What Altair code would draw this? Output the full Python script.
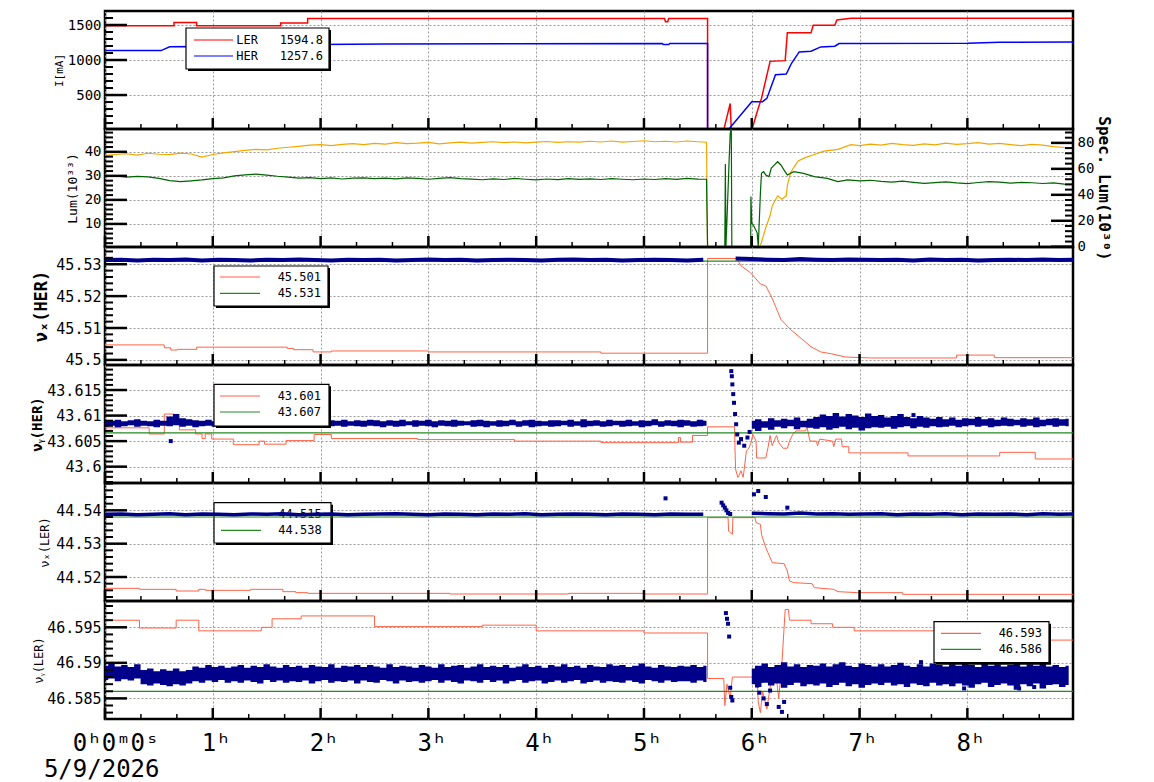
import altair as alt
import pandas as pd

FONT = "DejaVu Sans Mono"
W, H = 968, 118
X_DOMAIN = [0, 8.98]
HOURS = [0, 1, 2, 3, 4, 5, 6, 7, 8]
X_MINOR = [round(h + f / 3, 4) for h in range(9) for f in (1, 2) if h + f / 3 < 8.98]
DATE_LABEL = "5/9/2026"
NB = "\u00a0"

RED, BLUE = "#ff0000", "#0000ff"
ORANGE, DKGREEN = "#f0a800", "#006400"
TOMATO, GREEN, NAVY = "#ff6347", "#228b22", "#00008b"
GRID = "#9a9a9a"

# ---------------- data (time in hours) ----------------
LER_I = [(0, 1490), (0.64, 1490), (0.64, 1535), (0.85, 1535), (0.85, 1490), (1.63, 1490), (1.63, 1530),
         (1.88, 1530), (1.88, 1592), (5.19, 1592), (5.20, 1545), (5.22, 1545), (5.23, 1592), (5.59, 1592),
         (5.59, 0), (5.74, 0), (5.80, 380), (5.81, 0), (6.00, 0), (6.06, 310), (6.09, 452), (6.13, 717),
         (6.17, 981), (6.31, 991), (6.33, 1390), (6.55, 1390), (6.57, 1495), (6.77, 1495), (6.79, 1572),
         (6.92, 1597), (8.98, 1595)]
HER_I = [(0, 1135), (0.52, 1135), (0.60, 1190), (0.85, 1193), (0.85, 1140), (1.60, 1140), (1.66, 1200),
         (1.95, 1222), (2.6, 1230), (5.17, 1236), (5.18, 1222), (5.23, 1222), (5.24, 1236), (5.59, 1236),
         (5.59, 0), (5.78, 0), (6.00, 405), (6.10, 405), (6.14, 452), (6.22, 790), (6.32, 800), (6.37, 957),
         (6.44, 1116), (6.55, 1125), (6.64, 1187), (6.77, 1197), (6.81, 1236), (8.0, 1240), (8.3, 1255),
         (8.98, 1257)]

LUM_A = [38.5, 38.9, 39.2, 38.6, 39.4, 39.0, 38.8, 39.5, 39.1, 37.8,
         38.9, 39.6, 40.1, 40.6, 41.0, 40.8, 41.5, 41.9, 42.3, 42.8,
         43.0, 42.6, 43.1, 43.4, 43.0, 43.5, 43.2, 43.8, 43.4, 43.6,
         43.9, 43.3, 43.7, 44.0, 43.6, 43.9, 44.2, 43.8, 44.1, 43.7,
         44.0, 44.3, 43.9, 44.2, 44.0, 44.4, 44.1, 44.5, 44.0, 44.3,
         44.6, 44.2, 44.4, 44.1, 44.5, 44.2]
LUM_EVENT = [(5.58, 44.0), (5.59, 0), (6.07, 0), (6.09, 2.4), (6.13, 8.5), (6.17, 13.5), (6.19, 17.6),
             (6.24, 21.7), (6.28, 20.3), (6.32, 21.7), (6.33, 25.9), (6.36, 31.4), (6.43, 36.2),
             (6.49, 37.5), (6.58, 38.9), (6.67, 40.3), (6.80, 41.0), (6.92, 43.0)]
LUM_B = [42.6, 43.2, 42.8, 43.5, 43.0, 42.7, 43.3, 42.9, 43.6, 43.1, 43.4, 43.8, 43.2, 43.5, 43.0,
         42.6, 43.1, 42.8, 42.2, 41.8, 41.5]

SPEC_A = [54.0, 54.5, 53.6, 54.2, 53.8, 52.6, 51.0, 50.2, 50.8, 51.5,
          52.4, 53.0, 54.6, 55.4, 56.0, 55.2, 54.3, 53.6, 52.8, 53.2,
          52.5, 53.0, 52.2, 52.8, 53.1, 52.4, 52.9, 52.3, 53.0, 52.6,
          52.0, 52.7, 53.2, 52.5, 52.1, 51.6, 52.3, 51.8, 52.6, 52.0,
          51.5, 52.2, 51.7, 52.4, 51.9, 52.3, 51.8, 52.5, 52.0, 51.6,
          52.2, 51.8, 52.4, 51.9, 52.6, 52.1]
SPEC_EVENT = [(5.58, 52.0), (5.59, 0), (5.75, 0), (5.755, 63.7), (5.76, 0), (5.77, 21), (5.79, 66.8),
              (5.80, 87), (5.81, 92), (5.815, 0), (5.99, 0), (5.992, 38.7), (6.0, 18.3), (6.02, 15.8),
              (6.05, 10.7), (6.06, 0), (6.08, 41.3), (6.09, 56.5), (6.11, 57.8), (6.13, 55.3), (6.16, 54),
              (6.18, 60.4), (6.21, 63), (6.24, 65.5), (6.27, 63), (6.30, 59), (6.33, 55.3), (6.39, 57.8),
              (6.48, 56.5), (6.58, 54), (6.70, 52.7), (6.80, 50.2), (6.89, 51.5)]
SPEC_B = [50.8, 51.2, 50.4, 49.8, 50.5, 49.6, 48.8, 49.4, 50.0, 49.2, 48.6, 49.5, 50.1, 49.7, 49.0,
          49.6, 49.3, 48.7, 49.2, 48.3, 47.9]

NUX_HER_SET = [(0, 45.5047), (0.55, 45.5047), (0.55, 45.5038), (0.61, 45.5038), (0.61, 45.5031),
               (0.67, 45.5031), (0.67, 45.5033), (0.85, 45.5033), (0.85, 45.5040), (1.69, 45.5040),
               (1.69, 45.5036), (1.75, 45.5036), (1.75, 45.5032), (1.93, 45.5032), (1.93, 45.5025),
               (2.1, 45.5025), (2.1, 45.5028), (3.0, 45.5028), (3.0, 45.5025), (4.6, 45.5025),
               (4.6, 45.5021), (5.59, 45.5021), (5.59, 45.5318), (5.86, 45.5318), (5.90, 45.5295),
               (5.99, 45.5273), (6.08, 45.5238), (6.13, 45.5232), (6.18, 45.5200), (6.22, 45.5168),
               (6.27, 45.5127), (6.36, 45.5095), (6.46, 45.5067), (6.55, 45.5041), (6.64, 45.5025),
               (6.74, 45.5019), (6.87, 45.5009), (7.11, 45.5006), (7.9, 45.5006), (7.9, 45.5015),
               (8.25, 45.5015), (8.25, 45.5007), (8.98, 45.5007)]
NUX_HER_REF = 45.531
NUX_HER_MEAS = [13, 14, 12, 14, 13, 15, 12, 14, 13, 12, 14, 13, 15, 13, 12, 14, 13, 14, 12, 13,
                15, 13, 14, 12, 13, 14, 13, 12, 14, 15, 13, 14, 12, 13, 14, 13, 12, 14, None, 18,
                16, 14, 13, 16, 14, 13, 15, 14, 13, 14, 12, 15, 13, 14, 12, 13, 14, 13, 15, 13, 14]

NUY_HER_SET = [(0, 43.6076), (0.41, 43.6076), (0.41, 43.6064), (0.55, 43.6064), (0.55, 43.6103),
               (0.64, 43.6103), (0.64, 43.6083), (0.69, 43.6083), (0.69, 43.6072), (0.84, 43.6072),
               (0.84, 43.6064), (0.90, 43.6064), (0.90, 43.6055), (0.93, 43.6055), (0.93, 43.6064),
               (0.99, 43.6064), (0.99, 43.6054), (1.19, 43.6054), (1.19, 43.6043), (1.43, 43.6043),
               (1.43, 43.6050), (1.48, 43.6050), (1.48, 43.6044), (1.68, 43.6044), (1.68, 43.6051),
               (1.94, 43.6051), (1.94, 43.6063), (2.1, 43.6063), (2.1, 43.6055), (2.9, 43.6055),
               (2.9, 43.6053), (3.8, 43.6053), (3.8, 43.6050), (4.6, 43.6050), (4.6, 43.6047),
               (5.32, 43.6047), (5.32, 43.6057), (5.34, 43.6057), (5.34, 43.6048), (5.45, 43.6048),
               (5.45, 43.6061), (5.59, 43.6061), (5.59, 43.6078), (5.84, 43.6078), (5.845, 43.6031),
               (5.85, 43.5995), (5.87, 43.5979), (5.88, 43.5982), (5.90, 43.5992), (5.92, 43.5979),
               (5.93, 43.5995), (5.95, 43.6031), (5.97, 43.6035), (5.99, 43.6045), (6.01, 43.6063),
               (6.04, 43.6050), (6.045, 43.6017), (6.13, 43.6017), (6.15, 43.6037), (6.17, 43.6061),
               (6.19, 43.6041), (6.22, 43.6057), (6.23, 43.6061), (6.25, 43.6047), (6.29, 43.6036),
               (6.33, 43.6036), (6.35, 43.6050), (6.38, 43.6063), (6.41, 43.6070), (6.50, 43.6070),
               (6.51, 43.6080), (6.54, 43.6050), (6.60, 43.6050), (6.61, 43.6041), (6.63, 43.6054),
               (6.75, 43.6050), (6.76, 43.6039), (6.78, 43.6054), (6.83, 43.6054), (6.84, 43.6039),
               (6.90, 43.6039), (6.90, 43.6027), (7.45, 43.6027), (7.45, 43.6021), (8.3, 43.6021),
               (8.3, 43.6028), (8.63, 43.6028), (8.63, 43.6015), (8.98, 43.6015)]
NUY_HER_REF = 43.6066
# measured band (upper / lower edge), offsets of 0.0001 above 43.60, one value per 0.06 h
NUY_HER_HI = [91, 90, 92, 89, 91, 93, 90, 89, 92, 90,
              98, 103, 95, 93, 91, 90, 92, 89, 91, 90,
              90, 92, 89, 91, 90, 92, 89, 91, 90, 92,
              89, 91, 92, 90, 89, 91, 90, 92, 89, 91,
              90, 92, 91, 89, 91, 90, 92, 89, 91, 90,
              92, 89, 91, 90, 92, 90, 89, 91, 92, 90,
              89, 91, 90, 92, 89, 91, 92, 90, 89, 91,
              91, 90, 92, 89, 93, 90, 91, 89, 92, 90,
              90, 92, 89, 91, 90, 93, 89, 91, 90, 92,
              91, 89, 92, 90, None, None, None, None, None, None,
              90, 93, 89, 95, 91, 94, 92, 96, 90, 94,
              97, 102, 99, 105, 98, 103, 100, 97, 104, 99,
              101, 96, 99, 103, 97, 95, 99, 96, 94, 97,
              93, 96, 92, 95, 94, 97, 93, 95, 92, 96,
              94, 92, 95, 93, 96, 92, 94, 95, 93, 94]
NUY_HER_LO = [78, 80, 77, 79, 81, 78, 80, 79, 77, 80,
              79, 81, 78, 80, 77, 79, 80, 78, 81, 79,
              79, 77, 80, 78, 79, 81, 78, 79, 80, 77,
              80, 78, 79, 81, 77, 79, 80, 78, 80, 79,
              78, 80, 79, 77, 80, 78, 79, 81, 78, 80,
              79, 77, 80, 79, 78, 80, 81, 78, 79, 77,
              80, 78, 79, 81, 78, 80, 77, 79, 80, 78,
              79, 81, 78, 80, 77, 79, 80, 78, 79, 81,
              78, 79, 80, 77, 79, 81, 78, 80, 79, 77,
              80, 78, 79, 80, None, None, None, None, None, None,
              74, 70, 76, 72, 78, 75, 79, 73, 77, 76,
              74, 77, 72, 75, 78, 73, 76, 71, 75, 77,
              76, 78, 74, 77, 79, 75, 78, 76, 79, 77,
              78, 80, 77, 79, 81, 78, 80, 77, 79, 80,
              79, 81, 78, 80, 77, 79, 81, 78, 80, 79]
NUY_HER_OUT = [(5.81, 43.6187), (5.815, 43.6177), (5.82, 43.6161), (5.828, 43.6142), (5.835, 43.6125),
               (5.845, 43.6103), (5.855, 43.6083), (5.865, 43.6063), (5.88, 43.6047), (5.90, 43.6054),
               (5.93, 43.6041), (5.96, 43.6057), (5.98, 43.6068), (0.61, 43.6050), (7.50, 43.6101)]

NUX_LER_SET = [(0, 44.5166), (0.32, 44.5166), (0.32, 44.5163), (0.66, 44.5163), (0.66, 44.5158),
               (0.87, 44.5158), (0.87, 44.5163), (0.93, 44.5163), (0.93, 44.5160), (1.35, 44.5160),
               (1.35, 44.5163), (1.65, 44.5163), (1.65, 44.5156), (1.77, 44.5156), (1.77, 44.5153),
               (1.88, 44.5153), (1.88, 44.5151), (3.2, 44.5151), (3.2, 44.5149), (4.3, 44.5149),
               (4.3, 44.5151), (5.0, 44.5151), (5.0, 44.5149), (5.59, 44.5149), (5.59, 44.5378),
               (5.78, 44.5378), (5.785, 44.5338), (5.80, 44.5333), (5.82, 44.5328), (5.825, 44.5378),
               (6.03, 44.5378), (6.04, 44.5363), (6.08, 44.5358), (6.09, 44.5328), (6.11, 44.5308),
               (6.13, 44.5288), (6.15, 44.5273), (6.17, 44.5258), (6.19, 44.5243), (6.30, 44.5240),
               (6.33, 44.5218), (6.35, 44.5188), (6.39, 44.5183), (6.56, 44.5180), (6.58, 44.5168),
               (6.76, 44.5163), (6.80, 44.5156), (6.98, 44.5153), (7.4, 44.5153), (7.4, 44.5148),
               (8.98, 44.5148)]
NUX_LER_REF = 44.538
NUX_LER_MEAS = [88, 89, 87, 88, 90, 87, 89, 88, 87, 89, 88, 90, 87, 88, 89, 87, 88, 89, 90, 88,
                87, 89, 88, 87, 89, 88, 90, 87, 88, 89, 88, 87, 89, 88, 87, 89, 88, 88, None, None,
                91, 90, 89, 92, 89, 90, 88, 89, 90, 87, 89, 88, 90, 87, 89, 88, 89, 87, 90, 88, 89]
NUX_LER_OUT = [(5.20, 44.5436), (5.72, 44.5423), (5.735, 44.5415), (5.75, 44.5408), (5.765, 44.5400),
               (5.78, 44.5392), (5.80, 44.5389), (6.02, 44.5448), (6.06, 44.5458), (6.13, 44.5440),
               (6.33, 44.5408)]

NUY_LER_SET = [(0, 46.5960), (0.32, 46.5960), (0.32, 46.5949), (0.66, 46.5949), (0.66, 46.5960),
               (0.87, 46.5960), (0.87, 46.5945), (1.45, 46.5945), (1.45, 46.5950), (1.55, 46.5950),
               (1.55, 46.5962), (1.82, 46.5962), (1.82, 46.5966), (2.5, 46.5966), (2.5, 46.5951),
               (3.5, 46.5951), (3.5, 46.5953), (4.0, 46.5953), (4.0, 46.5945), (5.0, 46.5945),
               (5.0, 46.5942), (5.59, 46.5942), (5.59, 46.5878), (5.74, 46.5878), (5.75, 46.5840),
               (5.77, 46.5870), (5.80, 46.5850), (5.82, 46.5880), (6.05, 46.5880), (6.06, 46.5845),
               (6.08, 46.5830), (6.10, 46.5860), (6.14, 46.5835), (6.18, 46.5875), (6.22, 46.5890),
               (6.25, 46.5850), (6.28, 46.5900), (6.31, 46.5975), (6.34, 46.5975), (6.35, 46.5960),
               (6.55, 46.5960), (6.55, 46.5955), (6.75, 46.5955), (6.75, 46.5950), (6.95, 46.5950),
               (6.95, 46.5945), (7.75, 46.5945), (7.75, 46.5940), (7.85, 46.5940), (7.85, 46.5946),
               (7.98, 46.5946), (7.98, 46.5937), (8.13, 46.5937), (8.13, 46.5943), (8.22, 46.5943),
               (8.22, 46.5932), (8.98, 46.5932)]
NUY_LER_REF = 46.586
# measured band (upper / lower edge), offsets of 0.0001 above 46.58, one value per 0.06 h
NUY_LER_HI = [96, 99, 95, 97, 94, 98, 90, 92, 88, 91,
              89, 92, 88, 90, 95, 93, 97, 94, 96, 93,
              95, 97, 93, 96, 94, 98, 95, 93, 97, 94,
              96, 93, 97, 95, 94, 98, 93, 96, 95, 97,
              94, 97, 95, 93, 98, 94, 96, 95, 93, 97,
              95, 93, 98, 94, 96, 97, 93, 95, 98, 94,
              96, 94, 97, 93, 95, 98, 94, 96, 93, 97,
              95, 98, 94, 96, 93, 97, 95, 94, 98, 96,
              97, 94, 96, 99, 95, 93, 97, 95, 94, 96,
              95, 97, 94, 96, None, None, None, None, None, None,
              92, 96, 99, 94, 97, 101, 95, 98, 94, 97,
              96, 99, 95, 98, 101, 96, 94, 99, 97, 95,
              98, 95, 97, 100, 96, 94, 98, 95, 99, 97,
              95, 98, 96, 101, 97, 94, 99, 96, 98, 95,
              97, 100, 95, 98, 96, 99, 95, 97, 94, 96]
NUY_LER_LO = [76, 78, 74, 77, 75, 78, 70, 68, 71, 69,
              67, 70, 68, 71, 74, 72, 75, 73, 76, 72,
              74, 72, 75, 73, 71, 76, 73, 75, 72, 74,
              73, 75, 71, 74, 76, 72, 74, 73, 75, 71,
              75, 73, 72, 76, 74, 71, 75, 73, 74, 72,
              74, 76, 72, 75, 73, 71, 75, 74, 72, 76,
              73, 75, 71, 74, 76, 72, 74, 75, 71, 73,
              75, 72, 74, 76, 71, 73, 75, 72, 74, 73,
              72, 75, 73, 71, 76, 74, 72, 75, 73, 74,
              74, 72, 75, 73, None, None, None, None, None, None,
              70, 66, 72, 68, 71, 65, 69, 72, 67, 70,
              68, 71, 66, 69, 72, 67, 70, 65, 69, 71,
              69, 72, 68, 70, 66, 71, 69, 67, 72, 68,
              70, 67, 71, 68, 65, 70, 72, 66, 69, 71,
              68, 62, 70, 67, 71, 64, 69, 70, 66, 69]
NUY_LER_OUT = [(5.76, 46.5970), (5.77, 46.5962), (5.78, 46.5955), (5.79, 46.5937), (5.80, 46.5865),
               (5.81, 46.5852), (5.82, 46.5847), (6.05, 46.5868), (6.07, 46.5858), (6.09, 46.5875),
               (6.11, 46.5850), (6.14, 46.5842), (6.17, 46.5861), (6.25, 46.5838), (6.28, 46.5831),
               (6.30, 46.5845), (7.57, 46.5901), (7.97, 46.5864), (8.48, 46.5864), (8.62, 46.5866),
               (8.62, 46.5901)]

LEG1_NAMES = ["LER", "HER"]
LEG1_VALUES = ["1594.8", "1257.6"]
LEG3_VALUES = ["45.501", "45.531"]
LEG4_VALUES = ["43.601", "43.607"]
LEG5_VALUES = ["44.515", "44.538"]
LEG6_VALUES = ["46.593", "46.586"]

P1_DOM = [15, 1700]
P2_LDOM = [0.4, 49.5]
P2_RDOM = [-0.2, 90.7]
P3_DOM = [45.4984, 45.5354]
P4_DOM = [43.5968, 43.6199]
P5_DOM = [44.5128, 44.5482]
P6_DOM = [46.5821, 46.5987]


# ---------------- helpers ----------------
def grid_pairs(t0, dt, vals):
    return [(round(t0 + k * dt, 4), v) for k, v in enumerate(vals)]


def xscale():
    return alt.Scale(domain=X_DOMAIN, nice=False, zero=False)


def yscale(d):
    return alt.Scale(domain=d, nice=False, zero=False)


def pairs_df(pairs):
    return pd.DataFrame({"t": [p[0] for p in pairs], "v": [p[1] for p in pairs],
                         "i": list(range(len(pairs)))})


def enc_xy(ydom, xa, ya, field="v"):
    return dict(x=alt.X("t:Q", scale=xscale(), axis=xa),
                y=alt.Y(field + ":Q", scale=yscale(ydom), axis=ya))


def line_layer(pairs, ydom, color, sw, xa, ya):
    return alt.Chart(pairs_df(pairs)).mark_line(color=color, strokeWidth=sw, clip=True).encode(
        order="i:Q", **enc_xy(ydom, xa, ya))


def const_layer(value, ydom, color, xa, ya):
    return line_layer([(X_DOMAIN[0], value), (X_DOMAIN[1], value)], ydom, color, 1.2, xa, ya)


def band_df(t0, dt, vals, base, unit):
    rows, seg = [], 0
    for k, v in enumerate(vals):
        if v is None:
            seg += 1
            continue
        rows.append({"t": round(t0 + k * dt, 4), "v": base + v * unit, "seg": seg})
    return pd.DataFrame(rows)


def navy_line(df, ydom, sw, xa, ya):
    return alt.Chart(df).mark_line(color=NAVY, strokeWidth=sw, clip=True).encode(
        detail="seg:N", **enc_xy(ydom, xa, ya))


def navy_area(t0, dt, lo, hi, base, unit, ydom, xa, ya):
    rows, seg = [], 0
    for k, (a, b) in enumerate(zip(lo, hi)):
        if a is None or b is None:
            seg += 1
            continue
        rows.append({"t": round(t0 + k * dt, 4), "lo": base + a * unit, "hi": base + b * unit, "seg": seg})
    return alt.Chart(pd.DataFrame(rows)).mark_area(color=NAVY, opacity=1, interpolate="step",
                                                   clip=True).encode(
        detail="seg:N", y2="hi:Q", **enc_xy(ydom, xa, ya, "lo"))


def scatter_layer(pairs, ydom, size, xa, ya):
    return alt.Chart(pairs_df(pairs)).mark_square(color=NAVY, size=size, opacity=1, clip=True).encode(
        **enc_xy(ydom, xa, ya))


def minor_vals(lo, hi, step, majors):
    n = int(round((hi - lo) / step))
    out = []
    for j in range(n + 1):
        val = round(lo + j * step, 4)
        if all(abs(val - m) > step / 10 for m in majors):
            out.append(val)
    return out


def y_axis(values, fmt, title, tsize, tweight, tx, lsize, orient="left", grid=True, angle=270):
    return alt.Axis(orient=orient, values=values, format=fmt, labelFont=FONT, labelFontSize=lsize,
                    labelColor="black", labelPadding=4, ticks=False, tickSize=0, domain=False,
                    grid=grid, gridDash=[2, 2], gridColor=GRID, gridWidth=1,
                    title=title, titleFont=FONT, titleFontSize=tsize, titleFontWeight=tweight,
                    titleColor="black", titleX=tx, titleY=H / 2, titleAngle=angle,
                    titleAlign="center", titleBaseline="middle", labelOverlap=False)


def ytick_layers(major, minor, ydom, ya_major, ya_minor, right=False):
    def rule(vals, length, sw, ax):
        x0 = W if right else 0
        x1 = W - length if right else length
        return alt.Chart(pd.DataFrame({"v": vals})).mark_rule(color="black", strokeWidth=sw).encode(
            y=alt.Y("v:Q", scale=yscale(ydom), axis=ax), x=alt.value(x0), x2=alt.value(x1))
    return [rule(major, 22, 2.5, ya_major), rule(minor, 8, 2, ya_minor)]


def x_axis(bottom=False):
    kw = dict(values=HOURS, grid=True, gridDash=[2, 2], gridColor=GRID, gridWidth=1,
              ticks=False, tickSize=0, domain=False, title=None)
    if bottom:
        first = "0\u02b00\u1d500\u02e2"
        kw.update(labels=True, labelFont=FONT, labelFontSize=24, labelColor="black",
                  labelPadding=12, labelLineHeight=26, labelFlush=False, labelOverlap=False,
                  labelAlign={"condition": {"test": "datum.value == 0", "value": "right"},
                              "value": "center"},
                  labelOffset={"condition": {"test": "datum.value == 0", "value": 54}, "value": 3},
                  labelExpr="datum.value == 0 ? ['" + first + "', '" + DATE_LABEL +
                            "'] : datum.value + '\u02b0'")
    else:
        kw.update(labels=False)
    return alt.Axis(**kw)


def xtick_layers(xa):
    maj = alt.Chart(pd.DataFrame({"t": HOURS})).mark_rule(color="black", strokeWidth=2.5).encode(
        x=alt.X("t:Q", scale=xscale(), axis=xa), y=alt.value(H), y2=alt.value(H - 11))
    mnr = alt.Chart(pd.DataFrame({"t": X_MINOR})).mark_rule(color="black", strokeWidth=1.5).encode(
        x=alt.X("t:Q", scale=xscale(), axis=xa), y=alt.value(H), y2=alt.value(H - 5))
    return [maj, mnr]


ONE = pd.DataFrame({"k": [0]})


def legend_layers(box, rows, line_x, text_x):
    x0, y0, x1, y1 = box
    base = alt.Chart(ONE)
    out = [
        base.mark_rect(color="black").encode(x=alt.value(x0 + 2), x2=alt.value(x1 + 2),
                                             y=alt.value(y0 + 2), y2=alt.value(y1 + 2)),
        base.mark_rect(fill="white", stroke="black", strokeWidth=1.2).encode(
            x=alt.value(x0), x2=alt.value(x1), y=alt.value(y0), y2=alt.value(y1)),
    ]
    for ry, color, label in rows:
        out.append(base.mark_rule(color=color, strokeWidth=1.2).encode(
            x=alt.value(line_x[0]), x2=alt.value(line_x[1]), y=alt.value(ry)))
        out.append(base.mark_text(align="right", baseline="middle", font=FONT, fontSize=12,
                                  color="black").encode(x=alt.value(text_x), y=alt.value(ry),
                                                        text=alt.value(label)))
    return out


def panel(layers, independent=False):
    ch = alt.layer(*layers).properties(width=W, height=H)
    if independent:
        ch = ch.resolve_scale(y="independent")
    return ch


XA = x_axis(False)
XB = x_axis(True)

# ---------------- panel 1: currents ----------------
p1_major = [500, 1000, 1500]
Y1 = y_axis(p1_major, "d", "I[mA]", 11, "normal", -46, 14)
p1 = panel(
    [line_layer(LER_I, P1_DOM, RED, 1.5, XA, Y1), line_layer(HER_I, P1_DOM, BLUE, 1.5, XA, Y1)]
    + ytick_layers(p1_major, minor_vals(100, 1700, 100, p1_major), P1_DOM, Y1, Y1)
    + xtick_layers(XA)
    + legend_layers((81, 17, 224, 58),
                    [(29, RED, LEG1_NAMES[0] + NB * 3 + LEG1_VALUES[0]),
                     (45, BLUE, LEG1_NAMES[1] + NB * 3 + LEG1_VALUES[1])],
                    (89, 128), 218)
)

# ---------------- panel 2: luminosity ----------------
lum_pairs = grid_pairs(0, 0.1, LUM_A) + LUM_EVENT + grid_pairs(7.0, 0.1, LUM_B)
spec_pairs = grid_pairs(0, 0.1, SPEC_A) + SPEC_EVENT + grid_pairs(7.0, 0.1, SPEC_B)
p2_lmaj = [10, 20, 30, 40]
p2_rmaj = [0, 20, 40, 60, 80]
Y2L = y_axis(p2_lmaj, "d", "Lum(10\u00b3\u00b3)", 13, "normal", -33, 14)
Y2R = y_axis(p2_rmaj, "d", "Spec. Lum(10\u00b3\u2070)", 16, "bold", 30, 14,
             orient="right", grid=False, angle=90)
p2 = panel(
    [line_layer(lum_pairs, P2_LDOM, ORANGE, 1.2, XA, None),
     line_layer(spec_pairs, P2_RDOM, DKGREEN, 1.2, XA, None)]
    + ytick_layers(p2_lmaj, minor_vals(2, 48, 2, p2_lmaj), P2_LDOM, Y2L, None)
    + ytick_layers(p2_rmaj, minor_vals(4, 88, 4, p2_rmaj), P2_RDOM, Y2R, None, right=True)
    + xtick_layers(XA),
    independent=True,
)

# ---------------- panel 3: nu_x HER ----------------
p3_major = [45.5, 45.51, 45.52, 45.53]
Y3 = y_axis(p3_major, ".2~f", "\u03bd\u2093(HER)", 17, "bold", -64, 15)
p3 = panel(
    [line_layer(NUX_HER_SET, P3_DOM, TOMATO, 1.0, XA, Y3), const_layer(NUX_HER_REF, P3_DOM, GREEN, XA, Y3),
     navy_line(band_df(0, 0.15, NUX_HER_MEAS, 45.53, 0.0001), P3_DOM, 4, XA, Y3)]
    + ytick_layers(p3_major, minor_vals(45.5, 45.534, 0.002, p3_major), P3_DOM, Y3, Y3)
    + xtick_layers(XA)
    + legend_layers((109, 19, 223, 59),
                    [(30, TOMATO, LEG3_VALUES[0]), (46.3, GREEN, LEG3_VALUES[1])], (115, 155), 216)
)

# ---------------- panel 4: nu_y HER ----------------
p4_major = [43.6, 43.605, 43.61, 43.615]
Y4 = y_axis(p4_major, ".3~f", "\u03bd\u1d67(HER)", 14, "bold", -68, 15)
p4 = panel(
    [line_layer(NUY_HER_SET, P4_DOM, TOMATO, 1.0, XA, Y4), const_layer(NUY_HER_REF, P4_DOM, GREEN, XA, Y4),
     navy_area(0, 0.06, NUY_HER_LO, NUY_HER_HI, 43.60, 0.0001, P4_DOM, XA, Y4),
     scatter_layer(NUY_HER_OUT, P4_DOM, 16, XA, Y4)]
    + ytick_layers(p4_major, minor_vals(43.597, 43.619, 0.001, p4_major), P4_DOM, Y4, Y4)
    + xtick_layers(XA)
    + legend_layers((109, 19.3, 224, 61),
                    [(31, TOMATO, LEG4_VALUES[0]), (47, GREEN, LEG4_VALUES[1])], (115, 155), 216)
)

# ---------------- panel 5: nu_x LER ----------------
p5_major = [44.52, 44.53, 44.54]
Y5 = y_axis(p5_major, ".2~f", "\u03bd\u2093(LER)", 12, "normal", -61, 15)
p5 = panel(
    legend_layers((109, 19.7, 226, 60),
                  [(31.3, TOMATO, LEG5_VALUES[0]), (47.3, GREEN, LEG5_VALUES[1])], (116, 156), 216.7)
    + [line_layer(NUX_LER_SET, P5_DOM, TOMATO, 1.0, XA, Y5), const_layer(NUX_LER_REF, P5_DOM, GREEN, XA, Y5),
       navy_line(band_df(0, 0.15, NUX_LER_MEAS, 44.53, 0.0001), P5_DOM, 3.5, XA, Y5),
       scatter_layer(NUX_LER_OUT, P5_DOM, 16, XA, Y5)]
    + ytick_layers(p5_major, minor_vals(44.514, 44.548, 0.002, p5_major), P5_DOM, Y5, Y5)
    + xtick_layers(XA)
)

# ---------------- panel 6: nu_y LER ----------------
p6_major = [46.585, 46.59, 46.595]
Y6 = y_axis(p6_major, ".3~f", "\u03bd\u1d67(LER)", 12, "normal", -67, 15)
p6 = panel(
    [line_layer(NUY_LER_SET, P6_DOM, TOMATO, 1.0, XB, Y6), const_layer(NUY_LER_REF, P6_DOM, GREEN, XB, Y6),
     navy_area(0, 0.06, NUY_LER_LO, NUY_LER_HI, 46.58, 0.0001, P6_DOM, XB, Y6),
     scatter_layer(NUY_LER_OUT, P6_DOM, 16, XB, Y6)]
    + ytick_layers(p6_major, minor_vals(46.583, 46.598, 0.001, p6_major), P6_DOM, Y6, Y6)
    + xtick_layers(XB)
    + legend_layers((829, 20.7, 944, 61.7),
                    [(32.3, TOMATO, LEG6_VALUES[0]), (48.3, GREEN, LEG6_VALUES[1])], (836, 876), 937)
)

chart = alt.vconcat(p1, p2, p3, p4, p5, p6, spacing=0, bounds="flush").properties(
    padding={"left": 28, "top": 8, "right": 5, "bottom": 0},
    background="white",
).configure_view(stroke="black", strokeWidth=2.5)

chart.save("out.html", embed_options={"renderer": "svg", "actions": False})
